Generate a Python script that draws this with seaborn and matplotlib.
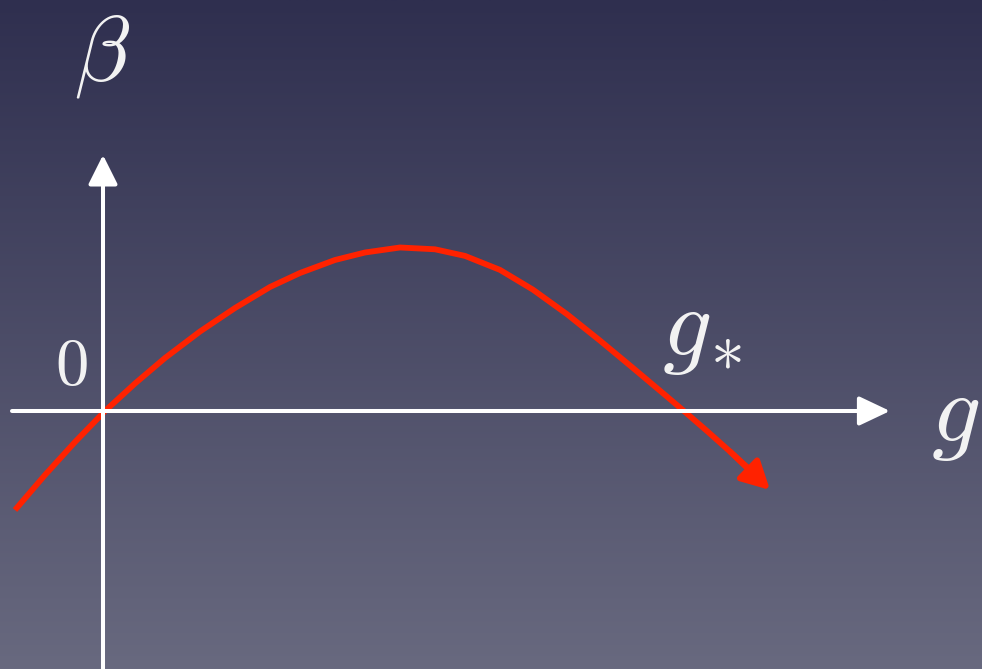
import numpy as np
import pandas as pd
import matplotlib
matplotlib.use("Agg")
import matplotlib.pyplot as plt
import seaborn as sns

# Curve (g, beta) in arbitrary units
g_vals = [-0.88, -0.58, -0.28, 0.02, 0.32, 0.62, 0.97, 1.32, 1.67, 1.97,
          2.32, 2.62, 2.97, 3.32, 3.62, 3.97, 4.30, 4.64, 4.97, 5.30,
          5.64, 5.80, 6.04, 6.27, 6.47]
beta_vals = [-0.99, -0.64, -0.31, 0.00, 0.275, 0.53, 0.795, 1.03, 1.24, 1.38,
             1.51, 1.585, 1.635, 1.617, 1.551, 1.411, 1.213, 0.968, 0.704, 0.43,
             0.144, 0.008, -0.20, -0.405, -0.587]
arrow_tip = (6.67, -0.79)

# Axis extents
x_axis = (-0.91, 7.87)
y_axis = (-2.60, 2.56)
xlim = (-1.03, 8.79)
ylim = (-2.58, 4.11)

labels = {"beta": r"$\beta$", "zero": r"$0$", "gstar": r"$g_{\!*}$", "g": r"$g$"}

plt.rcParams["mathtext.fontset"] = "cm"

fig = plt.figure(figsize=(9.82, 6.69), dpi=100)

# gradient background
bg = fig.add_axes([0, 0, 1, 1])
top = np.array([47, 47, 79]) / 255
bottom = np.array([104, 105, 127]) / 255
t = np.linspace(0, 1, 256)[:, None]
grad = top[None, None, :] * (1 - t[..., None]) + bottom[None, None, :] * t[..., None]
grad = np.repeat(grad, 2, axis=1)
bg.imshow(grad, aspect="auto", extent=[0, 1, 0, 1], origin="upper")
bg.set_axis_off()

ax = fig.add_axes([0, 0, 1, 1])
ax.set_facecolor("none")
ax.patch.set_alpha(0)

white = "#ffffff"
red = "#ff2200"

# axes arrows
ax.annotate("", xy=(x_axis[1], 0), xytext=(x_axis[0], 0),
            arrowprops=dict(arrowstyle="-|>,head_length=0.95,head_width=0.45",
                            mutation_scale=20, lw=2.9, color=white,
                            shrinkA=0, shrinkB=0))
ax.annotate("", xy=(0, y_axis[1]), xytext=(0, y_axis[0]),
            arrowprops=dict(arrowstyle="-|>,head_length=0.9,head_width=0.45",
                            mutation_scale=20, lw=2.9, color=white,
                            shrinkA=0, shrinkB=0))

df = pd.DataFrame({"g": g_vals, "beta": beta_vals})
sns.lineplot(data=df, x="g", y="beta", sort=False, color=red, lw=4.2, ax=ax,
             solid_capstyle="butt", solid_joinstyle="round")
ax.annotate("", xy=arrow_tip, xytext=(g_vals[-2], beta_vals[-2]),
            arrowprops=dict(arrowstyle="-|>,head_length=0.85,head_width=0.45",
                            mutation_scale=20, lw=4.2, color=red,
                            shrinkA=0, shrinkB=0))
ax.set_xlim(*xlim)
ax.set_ylim(*ylim)
ax.set_axis_off()

tc = "#f2f2f2"
ax.text(-0.01, 3.56, labels["beta"], fontsize=66, color=tc, ha="center", va="center")
ax.text(-0.32, 0.45, labels["zero"], fontsize=48, color=tc, ha="center", va="center")
ax.text(5.99, 0.81, labels["gstar"], fontsize=70, color=tc, ha="center", va="center")
ax.text(8.52, -0.05, labels["g"], fontsize=70, color=tc, ha="center", va="center")

fig.savefig("out.png", dpi=100)
